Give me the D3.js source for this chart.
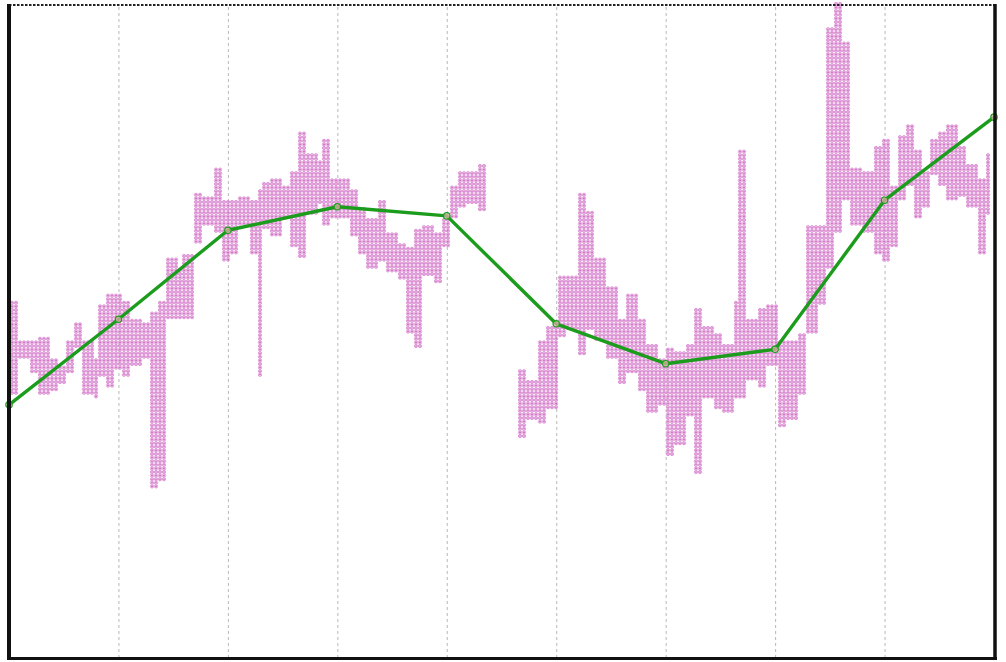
<!DOCTYPE html>
<html>
<head>
<meta charset="utf-8">
<script src="https://cdn.jsdelivr.net/npm/d3@7"></script>
<style>
  html, body { margin: 0; padding: 0; background: #ffffff; }
  svg { display: block; }
</style>
</head>
<body>
<svg id="chart" width="1006" height="662"></svg>
<script>
// Trend line: one value per period
const trendX = [0, 1, 2, 3, 4, 5, 6, 7, 8, 9];
const trendY = [38.7, 51.8, 65.4, 69.0, 67.6, 51.1, 45.0, 47.2, 70.0, 82.7];

// Vertical grid positions
const gridTicks = [1, 2, 3, 4, 5, 6, 7, 8];

// Raw readings: each column starts at rangeX[i] and runs to rangeX[i + 1],
// spanning rangeLow[i]..rangeHigh[i]; null marks a gap / end of run.
const rangeX = [
  0.01, 0.10, 0.19, 0.27, 0.37, 0.45, 0.53, 0.60, 0.68, 0.76,
  0.83, 0.90, 0.97, 1.04, 1.12, 1.22, 1.29, 1.36, 1.45, 1.54,
  1.59, 1.68, 1.77, 1.86, 1.95, 2.02, 2.11, 2.20, 2.27, 2.32,
  2.39, 2.48, 2.57, 2.64, 2.72, 2.81, 2.87, 2.93, 3.01, 3.10,
  3.19, 3.27, 3.36, 3.45, 3.55, 3.62, 3.69, 3.77, 3.87, 3.96,
  4.03, 4.10, 4.19, 4.29, 4.37,
  4.64, 4.73, 4.83, 4.92, 5.01, 5.10, 5.19, 5.26, 5.35, 5.46,
  5.56, 5.65, 5.74, 5.83, 5.92, 6.01, 6.09, 6.18, 6.27, 6.34,
  6.43, 6.52, 6.62, 6.66, 6.75, 6.84, 6.93, 7.02, 7.11, 7.20,
  7.29, 7.38, 7.47, 7.53, 7.62, 7.70, 7.79, 7.89, 7.98, 8.05,
  8.11, 8.19, 8.26, 8.34, 8.42, 8.49, 8.57, 8.66, 8.75, 8.85,
  8.94, 8.98
];
const rangeHigh = [
  54.7, 48.6, 48.3, 48.9, 45.6, 44.5, 48.6, 51.2, 48.6, 45.6,
  54.3, 55.8, 55.8, 54.7, 52.1, 51.2, 53.2, 54.7, 61.2, 59.3,
  61.9, 71.3, 70.5, 75.1, 70.0, 70.0, 70.5, 70.0, 71.6, 72.6,
  73.1, 72.0, 74.2, 80.3, 77.2, 76.1, 79.2, 73.1, 73.1, 71.6,
  69.0, 67.0, 70.0, 65.0, 63.5, 62.8, 65.4, 65.9, 65.0, 67.0,
  72.0, 74.2, 74.6, 75.7, null,
  44.0, 42.5, 48.6, 50.6, 58.3, 58.3, 71.1, 68.5, 61.3, 56.7,
  51.7, 55.8, 51.7, 48.2, 45.6, 47.6, 47.1, 48.2, 53.7, 50.6,
  49.7, 48.2, 54.7, 77.7, 51.7, 53.7, 54.3, 48.6, 48.6, 49.7,
  65.9, 65.9, 96.5, 100.0, 94.0, 75.1, 74.6, 78.1, 79.2, 72.0,
  79.7, 81.8, 77.7, 74.2, 79.2, 80.3, 81.8, 78.1, 75.7, 73.1,
  77.2, null
];
const rangeLow = [
  40.2, 45.6, 43.6, 40.5, 41.0, 42.1, 43.6, 47.6, 40.5, 39.5,
  43.0, 41.4, 44.0, 43.0, 44.5, 45.6, 26.0, 27.2, 51.7, 51.7,
  51.7, 63.2, 66.2, 65.0, 60.9, 61.9, 65.9, 61.9, 43.0, 65.4,
  64.4, 67.0, 62.8, 61.3, 68.0, 69.6, 65.9, 67.0, 67.0, 64.4,
  61.9, 59.3, 60.9, 58.9, 57.8, 49.7, 47.6, 58.3, 57.3, 62.8,
  67.0, 69.0, 69.6, 68.5, null,
  33.8, 36.4, 35.9, 37.9, 49.1, 50.2, 46.6, 50.2, 48.6, 46.0,
  42.1, 43.6, 41.0, 37.5, 38.4, 30.7, 32.3, 36.9, 28.3, 39.5,
  37.9, 37.5, 39.5, 39.9, 42.5, 41.4, 44.5, 35.3, 36.4, 40.5,
  49.7, 54.0, 59.8, 65.0, 70.0, 65.9, 65.0, 61.9, 60.9, 62.8,
  70.0, 72.0, 67.4, 69.0, 73.6, 72.0, 70.0, 70.5, 69.0, 61.9,
  68.0, null
];

const svg = d3.select("#chart");
const plotLeft = 9, plotRight = 994, plotTop = 4, plotBottom = 658;

const x = d3.scaleLinear().domain([0, 9]).range([plotLeft, plotRight]);
const y = d3.scaleLinear().domain([0, 100]).range([plotBottom, plotTop]);

// dashed vertical grid
svg.append("g")
  .attr("transform", `translate(0,${plotBottom})`)
  .call(d3.axisBottom(x).tickValues(gridTicks).tickSize(-(plotBottom - plotTop)).tickFormat(""))
  .call(g => g.select(".domain").remove())
  .call(g => g.selectAll(".tick line")
    .attr("stroke", "#b8b8b8")
    .attr("stroke-width", 1)
    .attr("stroke-dasharray", "3,3"));

// readings: each column is filled with small ring markers on a fixed lattice
const stepX = 4.0, stepY = 3.6;
const dots = [];
for (let i = 0; i < rangeX.length - 1; i++) {
  if (rangeHigh[i] == null || rangeLow[i] == null) continue;
  const px0 = x(rangeX[i]), px1 = x(rangeX[i + 1]);
  const pyTop = y(rangeHigh[i]), pyBot = y(rangeLow[i]);
  const gx0 = plotLeft + 3 + Math.ceil((px0 - plotLeft - 3) / stepX) * stepX;
  for (let gx = gx0; gx < px1; gx += stepX) {
    const gy0 = plotTop + Math.ceil((pyTop - plotTop) / stepY) * stepY;
    for (let gy = gy0; gy <= pyBot + 0.01; gy += stepY) {
      dots.push([gx, gy]);
    }
  }
}
const marks = svg.append("g");
marks.selectAll("circle.ring")
  .data(dots)
  .join("circle")
  .attr("class", "ring")
  .attr("cx", d => d[0])
  .attr("cy", d => d[1])
  .attr("r", 1.6)
  .attr("fill", "none")
  .attr("stroke", "#de94d6")
  .attr("stroke-width", 1);
marks.selectAll("circle.core")
  .data(dots)
  .join("circle")
  .attr("class", "core")
  .attr("cx", d => d[0])
  .attr("cy", d => d[1])
  .attr("r", 0.8)
  .attr("fill", "#c448b6");

// trend line with markers
const trend = trendX.map((v, i) => [v, trendY[i]]);
svg.append("path")
  .datum(trend)
  .attr("fill", "none")
  .attr("stroke", "#1c9c1c")
  .attr("stroke-width", 3.4)
  .attr("stroke-linejoin", "round")
  .attr("d", d3.line().x(d => x(d[0])).y(d => y(d[1])));
svg.append("g")
  .selectAll("circle")
  .data(trend)
  .join("circle")
  .attr("cx", d => x(d[0]))
  .attr("cy", d => y(d[1]))
  .attr("r", 3.2)
  .attr("fill", "#e8b0b0")
  .attr("fill-opacity", 0.7)
  .attr("stroke", "#1c9c1c")
  .attr("stroke-width", 1.2);

// frame
svg.append("line").attr("x1", plotLeft).attr("x2", plotRight + 2).attr("y1", plotTop + 1).attr("y2", plotTop + 1)
  .attr("stroke", "#222").attr("stroke-width", 2).attr("stroke-dasharray", "2.5,1.5");
svg.append("line").attr("x1", plotLeft).attr("x2", plotLeft).attr("y1", plotTop).attr("y2", plotBottom + 2)
  .attr("stroke", "#111").attr("stroke-width", 4);
svg.append("line").attr("x1", plotLeft).attr("x2", plotRight + 3).attr("y1", plotBottom + 0.5).attr("y2", plotBottom + 0.5)
  .attr("stroke", "#111").attr("stroke-width", 3);
svg.append("line").attr("x1", plotRight + 1).attr("x2", plotRight + 1).attr("y1", plotTop).attr("y2", plotBottom + 2)
  .attr("stroke", "#111").attr("stroke-width", 3.5);
</script>
</body>
</html>
